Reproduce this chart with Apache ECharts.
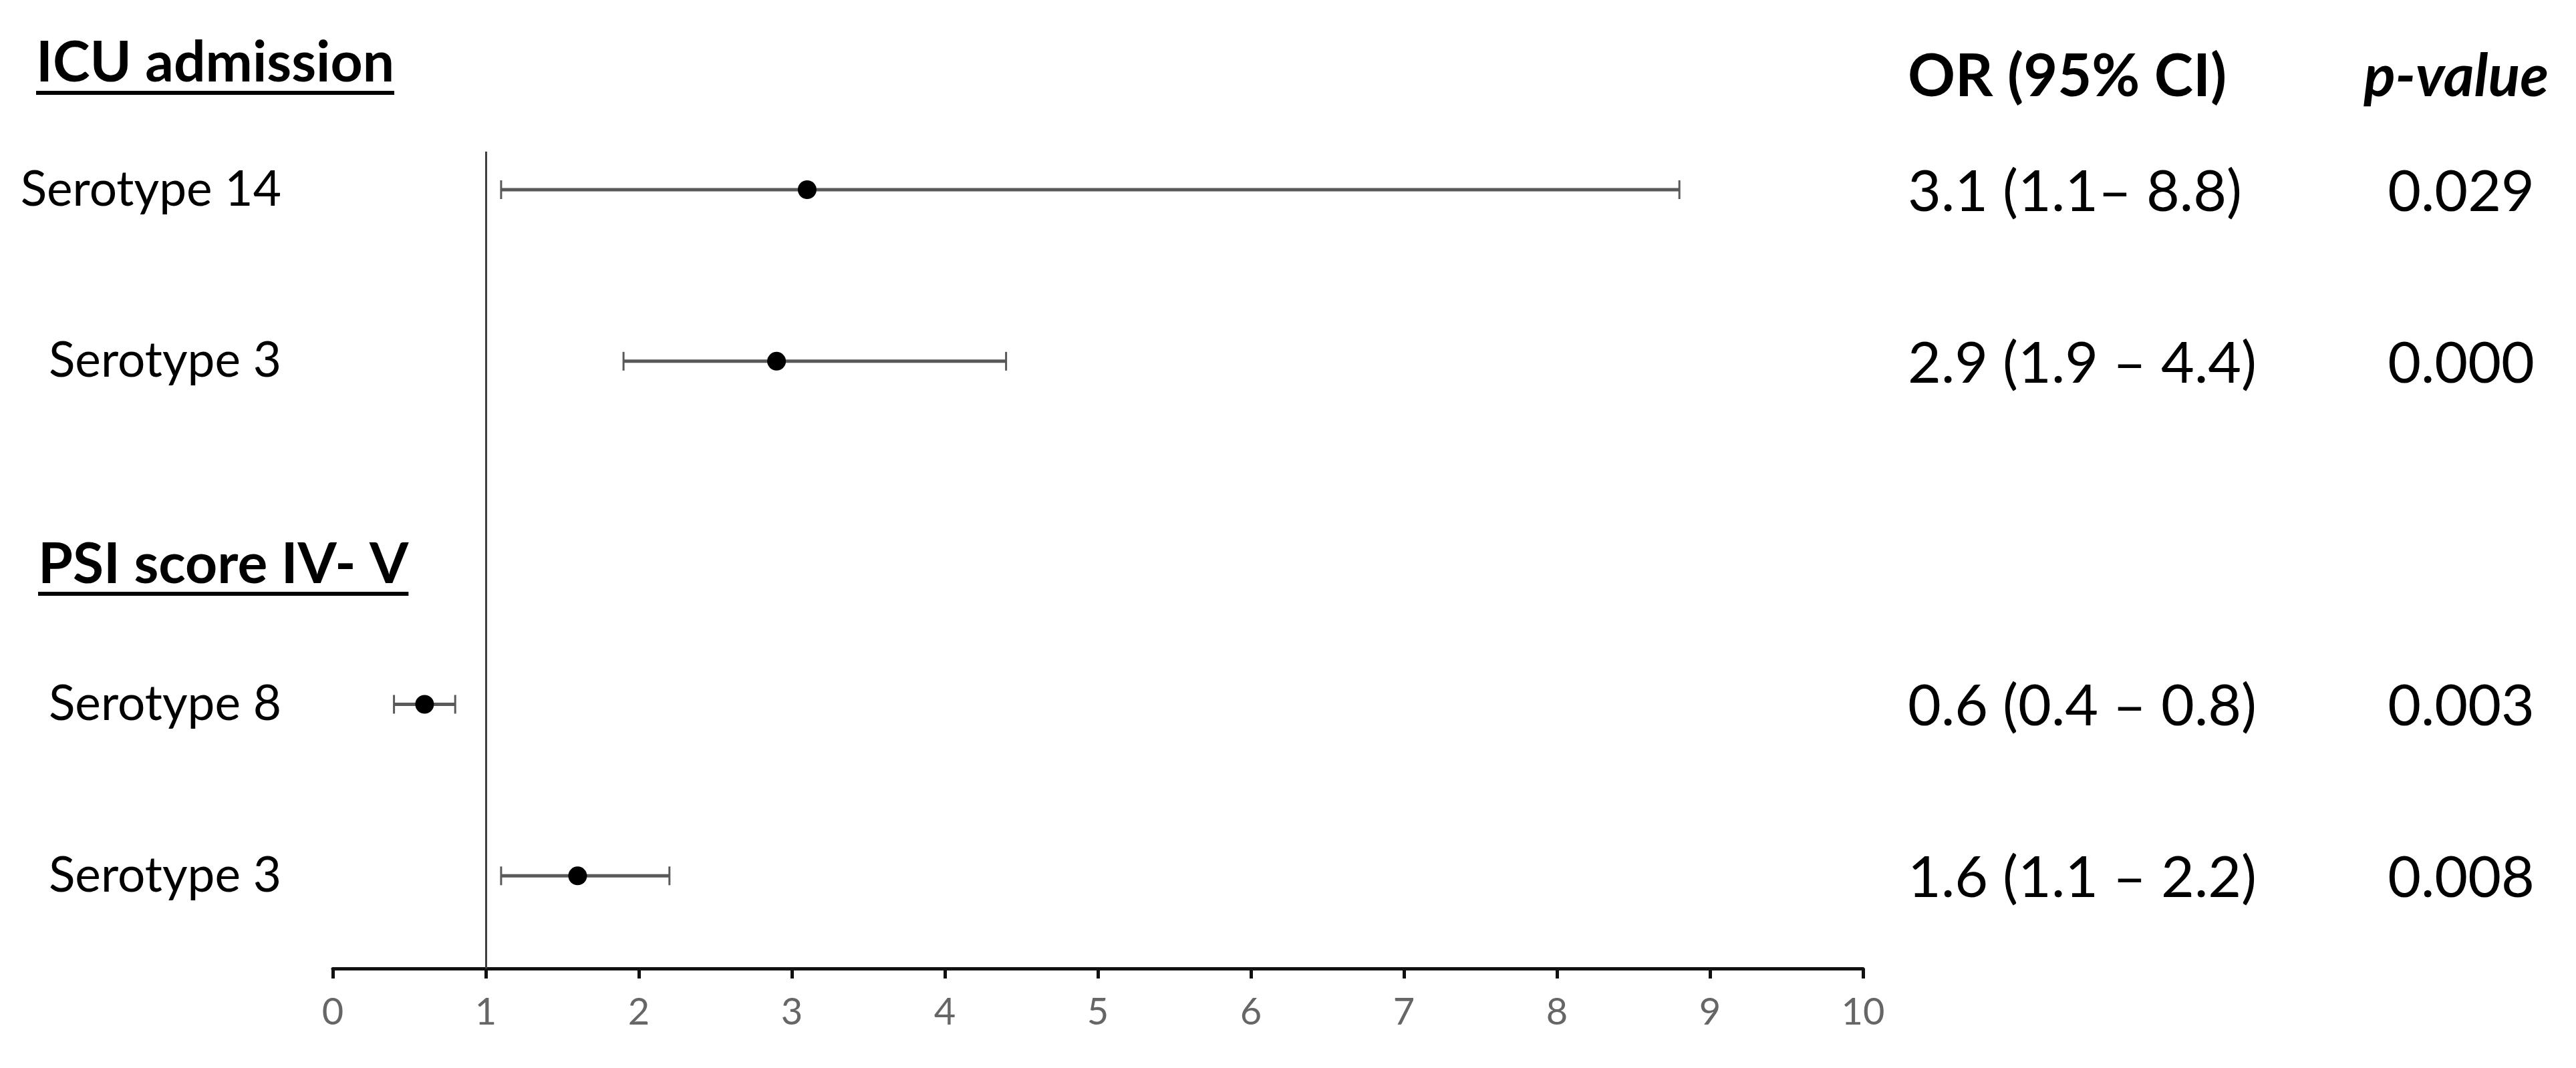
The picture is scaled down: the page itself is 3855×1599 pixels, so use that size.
<!DOCTYPE html>
<html>
<head>
<meta charset="utf-8">
<script src="https://cdn.jsdelivr.net/npm/echarts@6/dist/echarts.min.js"></script>
<style>
  html, body { margin: 0; padding: 0; background: #fff; }
  #main { width: 3855px; height: 1599px; }
</style>
</head>
<body>
<div id="main"></div>
<script>
// rows of the forest plot (row 2 is the gap that holds the second heading)
const rowLabels = ['Serotype 14', 'Serotype 3', 'Serotype 8', 'Serotype 3'];
const rowPos = [0, 1, 3, 4];
const orValues = [3.1, 2.9, 0.6, 1.6];
const ciLow = [1.1, 1.9, 0.4, 1.1];
const ciHigh = [8.8, 4.4, 0.8, 2.2];
const orText = ['3.1 (1.1\u2013 8.8)', '2.9 (1.9 \u2013 4.4)', '0.6 (0.4 \u2013 0.8)', '1.6 (1.1 \u2013 2.2)'];
const pValues = ['0.029', '0.000', '0.003', '0.008'];
const groupTitles = ['ICU admission', 'PSI score IV- V'];
const colTitles = ['OR (95% CI)', 'p-value'];
const refValue = 1;
const xMin = 0, xMax = 10, xStep = 1;

const FONT = 'Lato, "Open Sans", sans-serif';

// measure heading width so the underline fits the text
function textWidth(txt, font) {
  const ctx = document.createElement('canvas').getContext('2d');
  ctx.font = font;
  return ctx.measureText(txt).width;
}

const data = orValues.map((v, i) => [v, ciLow[i], ciHigh[i], rowPos[i], i]);

const chart = echarts.init(document.getElementById('main'));

const headFont = 'bold 84px ' + FONT;
const w1 = textWidth(groupTitles[0], headFont);
const w2 = textWidth(groupTitles[1], headFont);

const option = {
  backgroundColor: '#fff',
  animation: false,
  grid: { left: 498, right: 1067, top: 227, bottom: 149 },
  xAxis: {
    type: 'value',
    min: xMin,
    max: xMax,
    interval: xStep,
    splitLine: { show: false },
    axisLine: { show: true, onZero: false, lineStyle: { color: '#111', width: 5 } },
    axisTick: { show: true, length: 15, lineStyle: { color: '#111', width: 5 } },
    axisLabel: { fontSize: 56, color: '#666', fontFamily: FONT, margin: 38 }
  },
  yAxis: {
    type: 'value',
    inverse: true,
    min: -0.222,
    max: 4.54,
    splitLine: { show: false },
    axisLine: { show: false },
    axisTick: { show: false },
    axisLabel: {
      customValues: rowPos,
      formatter: v => rowLabels[rowPos.indexOf(v)],
      fontSize: 73,
      color: '#000',
      fontFamily: FONT,
      margin: 77
    }
  },
  graphic: [
    { type: 'text', x: 54, y: 95, style: { text: groupTitles[0], font: headFont, fill: '#000', align: 'left', verticalAlign: 'middle' } },
    { type: 'line', shape: { x1: 54, y1: 139, x2: 54 + w1, y2: 139 }, style: { stroke: '#000', lineWidth: 6 } },
    { type: 'text', x: 57, y: 846, style: { text: groupTitles[1], font: headFont, fill: '#000', align: 'left', verticalAlign: 'middle' } },
    { type: 'line', shape: { x1: 57, y1: 889, x2: 57 + w2, y2: 889 }, style: { stroke: '#000', lineWidth: 6 } },
    { type: 'text', x: 2855, y: 116, style: { text: colTitles[0], font: 'bold 88px ' + FONT, fill: '#000', align: 'left', verticalAlign: 'middle' } },
    { type: 'text', x: 3814, y: 116, style: { text: colTitles[1], font: 'italic bold 88px ' + FONT, fill: '#000', align: 'right', verticalAlign: 'middle' } }
  ],
  series: [{
    type: 'custom',
    clip: false,
    data: data,
    encode: { x: [0, 1, 2], y: 3 },
    renderItem: function (params, api) {
      const y = api.coord([0, api.value(3)])[1];
      const xo = api.coord([api.value(0), 0])[0];
      const xl = api.coord([api.value(1), 0])[0];
      const xh = api.coord([api.value(2), 0])[0];
      const i = api.value(4);
      const cap = 14;
      const barStyle = { stroke: '#595959', lineWidth: 5 };
      const capStyle = { stroke: '#595959', lineWidth: 3 };
      return {
        type: 'group',
        children: [
          { type: 'line', shape: { x1: xl, y1: y, x2: xh, y2: y }, style: barStyle },
          { type: 'line', shape: { x1: xl, y1: y - cap, x2: xl, y2: y + cap }, style: capStyle },
          { type: 'line', shape: { x1: xh, y1: y - cap, x2: xh, y2: y + cap }, style: capStyle },
          { type: 'circle', shape: { cx: xo, cy: y, r: 14 }, style: { fill: '#000' } },
          { type: 'text', x: 2855, y: y + 4, style: { text: orText[i], font: '86px ' + FONT, fill: '#000', align: 'left', verticalAlign: 'middle' } },
          { type: 'text', x: 3793, y: y + 4, style: { text: pValues[i], font: '86px ' + FONT, fill: '#000', align: 'right', verticalAlign: 'middle' } }
        ]
      };
    },
    markLine: {
      silent: true,
      symbol: 'none',
      label: { show: false },
      lineStyle: { color: '#404040', width: 3, type: 'solid' },
      data: [{ xAxis: refValue }]
    }
  }]
};

chart.setOption(option);
</script>
</body>
</html>
